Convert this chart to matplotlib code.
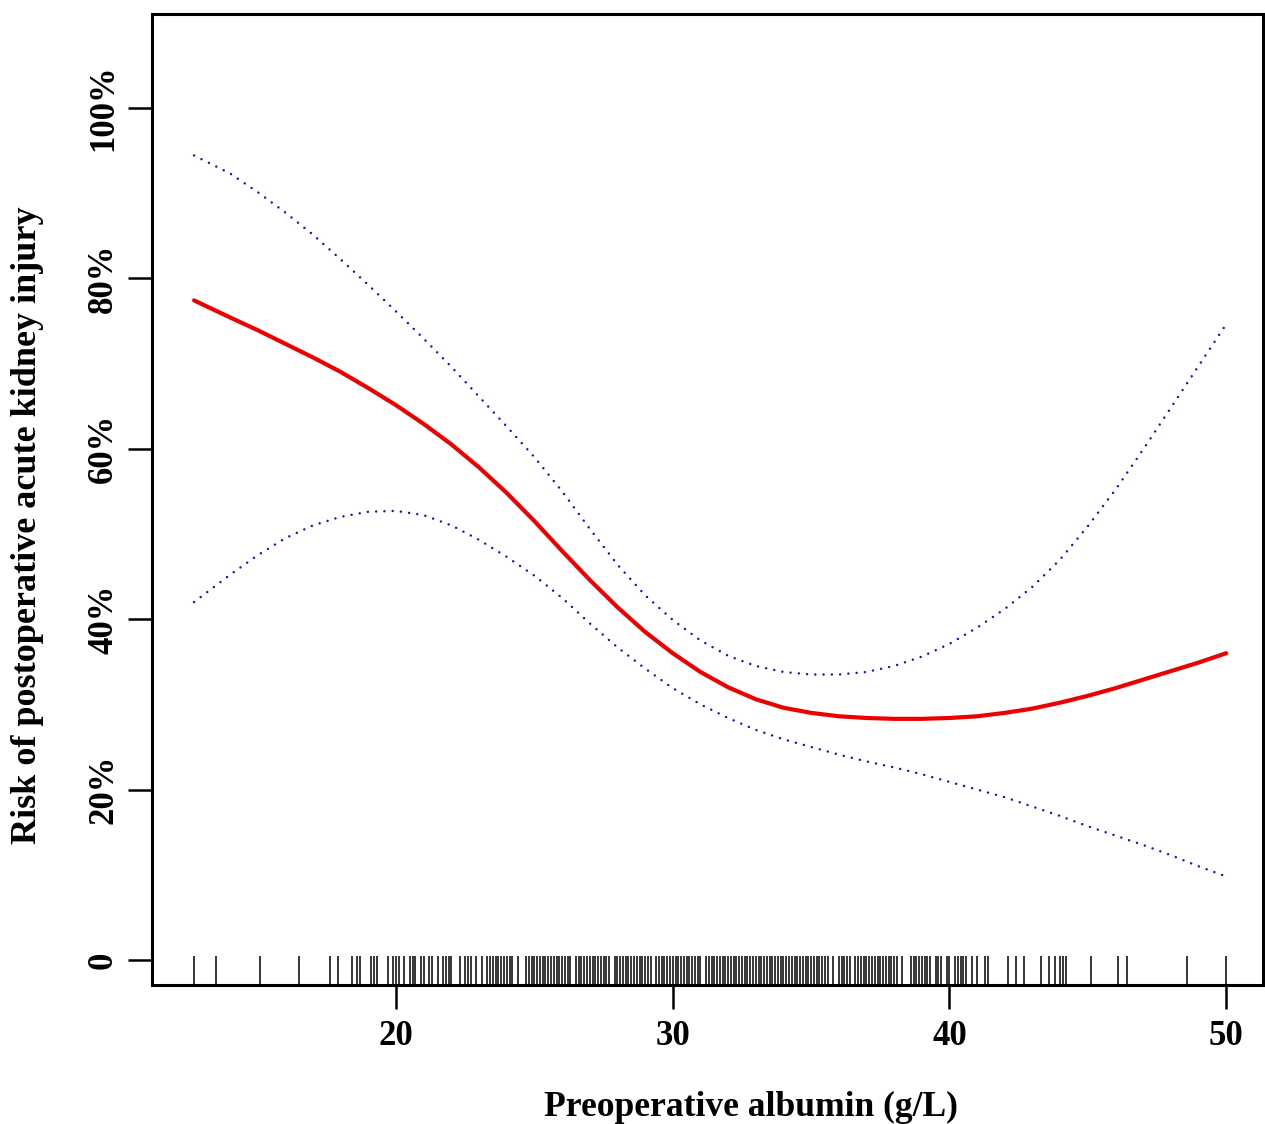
import matplotlib
matplotlib.use("Agg")
import matplotlib.pyplot as plt
import numpy as np

# ---------------- data ----------------
albumin = [12.7, 14, 15, 16, 17, 18, 19, 20, 21, 22, 23, 24, 25, 26, 27, 28, 29, 30,
           31, 32, 33, 34, 35, 36, 37, 38, 39, 40, 41, 42, 43, 44, 45, 46, 47, 48, 49, 50]

risk = [77.4, 75.4, 73.9, 72.3, 70.7, 69.0, 67.1, 65.1, 62.9, 60.5, 57.8, 54.8, 51.5,
        48.0, 44.6, 41.4, 38.5, 36.0, 33.8, 32.0, 30.6, 29.6, 29.0, 28.6, 28.4, 28.3,
        28.3, 28.4, 28.6, 29.0, 29.5, 30.2, 31.0, 31.9, 32.9, 33.9, 34.9, 36.0]

upper = [94.4, 92.3, 90.1, 87.7, 85.1, 82.2, 79.2, 76.1, 72.9, 69.6, 66.1, 62.6, 59.0,
         55.0, 50.6, 46.4, 42.8, 39.9, 37.5, 35.7, 34.5, 33.8, 33.5, 33.5, 33.8, 34.5,
         35.6, 37.1, 39.0, 41.2, 43.8, 47.0, 50.9, 55.2, 59.9, 64.8, 69.7, 74.6]

lower = [42.0, 45.2, 47.5, 49.5, 51.0, 52.0, 52.6, 52.7, 52.2, 51.0, 49.3, 47.3, 45.1,
         42.5, 39.5, 36.7, 34.2, 31.9, 30.0, 28.4, 27.0, 25.9, 25.0, 24.1, 23.3, 22.6,
         21.8, 20.9, 20.0, 19.1, 18.0, 16.9, 15.7, 14.6, 13.5, 12.3, 11.0, 9.8]

rug_values = [
    12.7, 13.5, 15.1, 16.5, 17.6, 17.9, 18.4, 18.6, 18.7, 19.1, 19.2, 19.3, 19.7, 19.9,
    20.0, 20.1, 20.3, 20.5, 20.6, 20.7, 20.9, 21.0, 21.2, 21.3, 21.5, 21.7, 21.8, 21.9,
    22.0, 22.3, 22.5, 22.6, 22.7, 22.9, 23.1, 23.3, 23.4, 23.5,
    23.6, 23.7, 23.8, 23.9, 24.0, 24.1, 24.2, 24.4,
    24.7, 24.8, 24.9, 25.0, 25.1, 25.2, 25.3, 25.4, 25.5, 25.6, 25.7, 25.8, 25.9, 26.0,
    26.1, 26.2, 26.3,
    26.5, 26.6, 26.7, 26.8, 26.9, 27.0, 27.1, 27.2, 27.3, 27.4, 27.5, 27.6, 27.7,
    27.9, 28.0, 28.1, 28.2, 28.3, 28.4, 28.5, 28.6, 28.7, 28.8, 28.9, 29.0, 29.1, 29.2,
    29.4, 29.5, 29.6, 29.7, 29.8, 29.9, 30.0, 30.1, 30.2, 30.3, 30.4, 30.5, 30.6, 30.7,
    30.8, 30.9, 31.0,
    31.2, 31.3, 31.4, 31.5, 31.6, 31.7, 31.8, 31.9, 32.0, 32.1, 32.2, 32.3, 32.4, 32.5,
    32.6, 32.7, 32.8, 32.9, 33.0, 33.1, 33.2, 33.3, 33.4, 33.5, 33.6, 33.7, 33.8, 33.9,
    34.0, 34.1, 34.2, 34.3, 34.4, 34.5, 34.6, 34.7, 34.8, 34.9, 35.0, 35.1, 35.2, 35.3,
    35.4, 35.5, 35.6, 35.8,
    36.0, 36.1, 36.2, 36.3, 36.4,
    36.6, 36.7, 36.8, 36.9, 37.0, 37.1, 37.2, 37.3, 37.4, 37.5, 37.6, 37.7, 37.8, 37.9,
    38.0, 38.1, 38.3,
    38.6, 38.7, 38.8, 38.9, 39.0, 39.1, 39.2, 39.3, 39.5, 39.6, 39.7, 39.9, 40.0,
    40.2, 40.3, 40.4, 40.5, 40.6, 40.8, 41.0, 41.3, 41.4,
    42.1, 42.4, 42.7, 43.3, 43.6, 43.8, 44.0, 44.1, 44.2, 45.1, 46.1, 46.4, 48.6, 50.0]

x_ticks = [20, 30, 40, 50]
y_ticks = [0, 20, 40, 60, 80, 100]
y_ticklabels = ["0", "20%", "40%", "60%", "80%", "100%"]

xlabel = "Preoperative albumin (g/L)"
ylabel = "Risk of postoperative acute kidney injury"

# ---------------- figure ----------------
plt.rcParams["font.family"] = ["Liberation Serif", "DejaVu Serif"]
plt.rcParams["font.weight"] = "bold"

W, H = 1265, 1124
fig = plt.figure(figsize=(W / 100, H / 100), dpi=100)
ax = fig.add_axes([152 / W, 1 - 985 / H, (1263 - 152) / W, (985 - 14) / H])

for band in (upper, lower):
    ax.plot(albumin, band, color="#1212c8", lw=1.8, linestyle=(0, (0.01, 3.3)),
            dash_capstyle="round", solid_joinstyle="round")
ax.plot(albumin, risk, color="#ee0000", lw=3.0, solid_capstyle="round",
        solid_joinstyle="round")

ax.set_xlim(11.18, 51.33)
ax.set_ylim(-2.93, 111.0)

# rug
ax.vlines(rug_values, 0, 0.03, transform=ax.get_xaxis_transform(),
          color="black", lw=1.1)

for s in ax.spines.values():
    s.set_linewidth(2.2)
    s.set_color("black")

ax.set_xticks(x_ticks)
ax.set_xticklabels([str(v) for v in x_ticks])
ax.set_yticks(y_ticks)
ax.set_yticklabels(y_ticklabels, rotation=90, va="center")
ax.tick_params(axis="both", direction="out", length=17, width=1.8,
               labelsize=25, colors="black")
ax.tick_params(axis="x", pad=8)
ax.tick_params(axis="y", pad=6)
for lab in ax.get_xticklabels() + ax.get_yticklabels():
    lab.set_fontweight("bold")

fig.text(751 / W, 1 - 1107 / H, xlabel, ha="center", va="center",
         fontsize=25.6, fontweight="bold")
fig.text(28 / W, 1 - 525 / H, ylabel, ha="center", va="center",
         rotation=90, fontsize=26, fontweight="bold")

fig.savefig("out.png", dpi=100, facecolor="white")
